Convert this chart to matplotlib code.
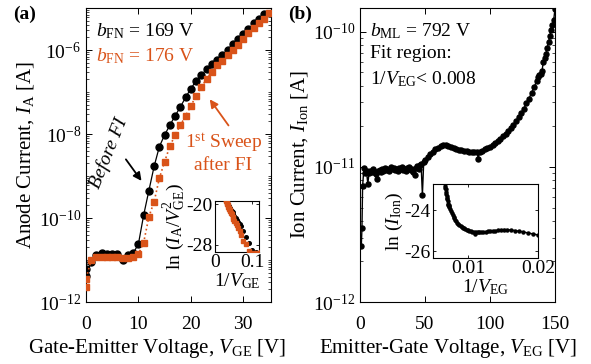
import numpy as np
import matplotlib
matplotlib.use("Agg")
import matplotlib.pyplot as plt
from matplotlib.ticker import LogLocator, FixedLocator, NullFormatter, FuncFormatter

plt.rcParams.update({
    "font.family": ["Liberation Serif", "DejaVu Serif"],
    "mathtext.fontset": "custom",
    "mathtext.rm": "Liberation Serif",
    "mathtext.it": "Liberation Serif:italic",
    "mathtext.bf": "Liberation Serif:bold",
    "axes.unicode_minus": False,
    "font.size": 14,
    "axes.labelsize": 15,
    "xtick.direction": "in",
    "ytick.direction": "in",
    "xtick.top": True,
    "ytick.right": True,
    "axes.linewidth": 0.8,
})

ORANGE = "#D95319"

# ---- (a) anode current vs gate-emitter voltage ----
vge_before = [0, 0, 1, 2, 3, 4, 5, 6, 7, 8, 9, 10, 11, 12, 13, 14, 15, 16, 17, 18,
              19, 20, 21, 22, 23, 24, 25, 26, 27, 28, 29, 30, 31, 32, 33, 34]
ia_before = [6.0e-12, 4.2e-12, 9.1e-12, 1.32e-11, 1.45e-11, 1.41e-11, 1.41e-11, 1.38e-11,
             1.0e-11, 1.32e-11, 1.45e-11, 2.4e-11, 1.17e-10, 4.5e-10, 1.70e-9, 5.0e-9,
             9.5e-9, 1.62e-8, 2.7e-8, 4.4e-8, 7.4e-8, 1.20e-7, 1.82e-7, 2.5e-7, 3.5e-7,
             4.7e-7, 5.9e-7, 7.4e-7, 1.0e-6, 1.38e-6, 1.82e-6, 2.45e-6, 3.2e-6, 4.3e-6,
             5.6e-6, 7.1e-6]

vge_after = [0, 0, 1, 2, 3, 4, 5, 6, 7, 8, 9, 10, 11, 12, 13, 14, 15, 16, 17, 18,
             19, 20, 21, 22, 23, 24, 25, 26, 27, 28, 29, 30, 31, 32, 33, 34, 35]
ia_after = [2.3e-12, 3.6e-12, 1.0e-11, 1.17e-11, 1.2e-11, 1.17e-11, 1.2e-11, 1.15e-11,
            1.1e-11, 1.12e-11, 1.17e-11, 1.38e-11, 2.6e-11, 1.07e-10, 2.45e-10, 8.9e-10,
            2.2e-9, 5.1e-9, 9.5e-9, 1.62e-8, 2.7e-8, 4.7e-8, 7.9e-8, 1.29e-7, 2.04e-7,
            3.0e-7, 4.3e-7, 5.6e-7, 7.6e-7, 1.0e-6, 1.32e-6, 1.82e-6, 2.5e-6, 3.3e-6,
            4.4e-6, 5.6e-6, 7.4e-6]

# ---- (b) ion current vs emitter-gate voltage (currents in pA) ----
veg = [1, 1.5, 2, 3, 4, 5, 6, 7, 8, 9, 10, 11, 12, 13, 14, 15, 16, 17, 18, 19, 20,
       21, 22, 23, 24, 25, 26, 27, 28, 29, 30, 31, 32, 33, 34, 35, 36, 37, 38, 39, 40,
       41, 42, 43, 44, 45, 46, 47, 48, 49, 50, 52, 54, 56, 58, 60, 62, 64, 66, 68, 70,
       72, 74, 76, 78, 80, 82, 84, 86, 88, 90, 91, 92, 94, 96, 98, 100, 102, 104, 106,
       108, 110, 112, 114, 116, 118, 120, 122, 124, 126, 128, 130, 132, 134, 136, 137,
       138, 139, 140, 141, 142, 143, 144, 145, 146, 147, 148, 149, 150]
iion_pA = [2.6, 3.5, 7.2, 9.8, 9.0, 9.3, 7.5, 9.0, 9.4, 9.2, 9.6, 9.1, 8.8, 8.1, 9.3,
           9.5, 9.2, 9.6, 9.4, 9.8, 9.5, 9.7, 9.3, 9.6, 9.9, 9.6, 9.8, 9.5, 9.7, 9.4, 9.8,
           9.6, 9.9, 9.5, 9.7, 9.4, 9.8, 9.6, 9.9, 9.5, 9.7, 9.2, 8.7, 9.8, 10.2, 9.6,
           10.3, 10.5, 6.2, 10.8, 11.2, 11.8, 12.4, 13.0, 13.5, 13.9, 14.2, 14.5, 14.6,
           14.3, 14.0, 13.8, 13.6, 13.4, 13.3, 13.2, 13.1, 13.0, 13.0, 12.9, 12.8, 11.5,
           12.9, 13.2, 13.5, 13.8, 14.1, 14.5, 15.0, 15.5, 16.0, 16.8, 17.5, 18.4, 19.3,
           20.5, 21.8, 23.5, 25.0, 27.0, 29.5, 32.0, 35.5, 39.0, 43.5, 46.0, 47.5, 49.0,
           51.0, 60.0, 64.0, 69.0, 76.0, 84.0, 93.0, 103.0, 112.0, 122.0, 148.0]

W, H = 591, 364
fig = plt.figure(figsize=(W / 100, H / 100), dpi=100)


def rect(x0, x1, y0, y1):
    return [x0 / W, 1 - y1 / H, (x1 - x0) / W, (y1 - y0) / H]


def decade_label(v, pos):
    e = int(round(np.log10(v)))
    return r"$\mathregular{10^{%d}}$" % e


def log_axis_style(ax):
    ax.yaxis.set_minor_locator(LogLocator(base=10, subs=np.arange(1, 10), numticks=50))
    ax.yaxis.set_minor_formatter(NullFormatter())
    ax.tick_params(which="major", length=4, width=0.7)
    ax.tick_params(which="minor", length=2, width=0.5)
    ax.tick_params(axis="x", which="major", pad=10)


# ---------------- panel (a) ----------------
axa = fig.add_axes(rect(86, 271, 8, 302))
axa.set_yscale("log")
axa.set_xlim(0, 35.3)
axa.set_ylim(1e-12, 1e-5)
axa.plot(vge_after, ia_after, ls=":", lw=1.2, color=ORANGE, marker="s", ms=4.2,
         mec=ORANGE, mfc=ORANGE, zorder=3)
axa.plot(vge_before, ia_before, ls="-", lw=0.9, color="black", marker="o", ms=5,
         mec="black", mfc="black", zorder=2)
axa.yaxis.set_major_locator(FixedLocator([1e-12, 1e-10, 1e-8, 1e-6]))
axa.yaxis.set_major_formatter(FuncFormatter(decade_label))
log_axis_style(axa)
axa.set_xticks([0, 10, 20, 30])
axa.set_xlabel(r"Gate-Emitter Voltage, $V_{\rm GE}$ [V]", labelpad=1)
axa.xaxis.set_label_coords(0.385, -0.12)
axa.set_ylabel(r"Anode Current, $I_{\rm A}$ [A]", labelpad=2)

axa.text(0.055, 0.955, r"$b_{\rm FN}$ = 169 V", transform=axa.transAxes, ha="left", va="top")
axa.text(0.055, 0.87, r"$b_{\rm FN}$ = 176 V", transform=axa.transAxes, ha="left", va="top",
         color=ORANGE)
axa.annotate("", xy=(10.9, 10 ** -9.17), xytext=(7.3, 10 ** -8.55),
             arrowprops=dict(arrowstyle="-|>", color="black", lw=1.3, mutation_scale=12))
axa.text(4.3, 10 ** -8.45, "Before FI", style="italic", rotation=68, ha="center", va="center")
axa.annotate("", xy=(23.3, 10 ** -7.12), xytext=(27.5, 10 ** -7.85),
             arrowprops=dict(arrowstyle="-|>", color=ORANGE, lw=1.3, mutation_scale=12))
axa.text(26.2, 10 ** -8.45, "1$^{\\rm st}$ Sweep\nafter FI", color=ORANGE, ha="center",
         va="center", linespacing=1.15)
fig.text(13 / W, 1 - 14 / H, "(a)", fontweight="bold", ha="left", va="center")

# inset (a): Fowler-Nordheim plot
insa = fig.add_axes(rect(215, 259, 201, 252))
va_b = np.array(vge_before, float)
ia_b = np.array(ia_before)
va_a = np.array(vge_after, float)
ia_a = np.array(ia_after)
mb = va_b > 0
ma = va_a > 0
insa.plot(1 / va_a[ma], np.log(ia_a[ma] / va_a[ma] ** 2), ls="none", marker="s", ms=2.6,
          color=ORANGE, zorder=3)
insa.plot(1 / va_b[mb], np.log(ia_b[mb] / va_b[mb] ** 2), ls="none", marker="o", ms=2.6,
          color="black", zorder=2)
insa.set_xlim(0, 0.119)
insa.set_ylim(-29.4, -19.4)
insa.set_xticks([0, 0.1])
insa.set_xticklabels(["0", "0.1"])
insa.set_yticks([-20, -28])
insa.tick_params(length=2.5, width=0.6, pad=1.5)
insa.set_xlabel(r"$1/V_{\rm GE}$", labelpad=0, fontsize=14)
insa.set_ylabel(r"ln $(I_{\rm A}/V_{\rm GE}^{2})$", labelpad=0, fontsize=14)

# ---------------- panel (b) ----------------
axb = fig.add_axes(rect(360, 555, 8, 302))
axb.set_yscale("log")
veg_arr = np.array(veg, float)
iion = np.array(iion_pA) * 1e-12
axb.plot(veg_arr, iion, ls="-", lw=1.0, color="black", marker="o", ms=3.6, zorder=2)
axb.set_xlim(0, 150)
axb.set_ylim(1e-12, 1.5e-10)
axb.set_xticks([0, 50, 100, 150])
axb.yaxis.set_major_locator(FixedLocator([1e-12, 1e-11, 1e-10]))
axb.yaxis.set_major_formatter(FuncFormatter(decade_label))
log_axis_style(axb)
axb.set_xlabel(r"Emitter-Gate Voltage, $V_{\rm EG}$ [V]", labelpad=1)
axb.xaxis.set_label_coords(0.45, -0.12)
axb.set_ylabel(r"Ion Current, $I_{\rm Ion}$ [A]", labelpad=2)
axb.text(0.05, 0.955, r"$b_{\rm ML}$ = 792 V", transform=axb.transAxes, ha="left", va="top")
axb.text(0.05, 0.875, "Fit region:", transform=axb.transAxes, ha="left", va="top")
axb.text(0.05, 0.79, r"1/$V_{\rm EG}$< 0.008", transform=axb.transAxes, ha="left", va="top")
fig.text(288 / W, 1 - 14 / H, "(b)", fontweight="bold", ha="left", va="center")

# inset (b): ln(I) against 1/V
insb = fig.add_axes(rect(433, 538, 184, 258))
insb.plot(1 / veg_arr, np.log(iion), ls="-", lw=1.0, color="black", marker="o", ms=2.2)
insb.set_xlim(0.005, 0.02)
insb.set_ylim(-26.34, -22.73)
insb.set_xticks([0.01, 0.02])
insb.set_xticklabels(["0.01", "0.02"])
insb.set_yticks([-24, -26])
insb.tick_params(length=2.5, width=0.6, pad=1.5)
insb.set_xlabel(r"$1/V_{\rm EG}$", labelpad=0, fontsize=14)
insb.set_ylabel(r"ln $(I_{\rm Ion})$", labelpad=0, fontsize=14)

fig.savefig("out.png", dpi=100)
